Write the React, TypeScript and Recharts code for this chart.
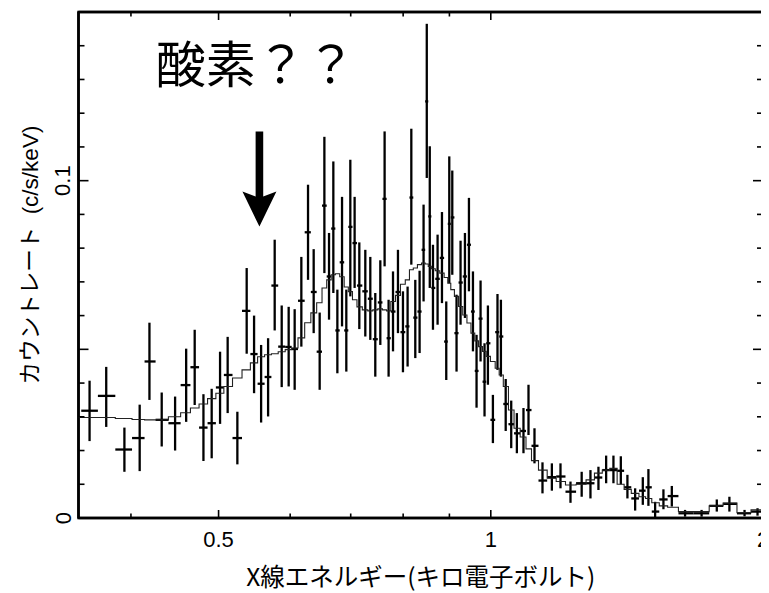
import React from 'react';
import { ComposedChart, Scatter, XAxis, YAxis, ErrorBar, ReferenceDot, ReferenceArea } from 'recharts';

const FONT = '"Liberation Sans", "Noto Sans CJK JP", sans-serif';
const CJK_FONT = '"Noto Sans CJK JP", "Liberation Sans", sans-serif';

// Bin centres (keV)
const energyKeV = [
  0.3600, 0.3756, 0.3934, 0.4090, 0.4193, 0.4326, 0.4476, 0.4604, 0.4705, 0.4811,
  0.4913, 0.5019, 0.5117, 0.5245, 0.5371, 0.5473, 0.5572, 0.5672, 0.5768, 0.5872,
  0.5977, 0.6069, 0.6173, 0.6279, 0.6370, 0.6468, 0.6546, 0.6624, 0.6697, 0.6766,
  0.6847, 0.6922, 0.6993, 0.7070, 0.7155, 0.7265, 0.7358, 0.7452, 0.7548, 0.7631,
  0.7709, 0.7796, 0.7895, 0.7996, 0.8091, 0.8168, 0.8251, 0.8342, 0.8427, 0.8496,
  0.8561, 0.8631, 0.8733, 0.8831, 0.8928, 0.8997, 0.9066, 0.9165, 0.9259, 0.9363,
  0.9459, 0.9556, 0.9644, 0.9743, 0.9842, 0.9927, 1.0054, 1.0172, 1.0261, 1.0387,
  1.0534, 1.0687, 1.0868, 1.1008, 1.1177, 1.1407, 1.1683, 1.1942, 1.2250, 1.2604,
  1.2889, 1.3154, 1.3414, 1.3666, 1.3925, 1.4161, 1.4442, 1.4727, 1.4939, 1.5196,
  1.5521, 1.5856, 1.6400, 1.7105, 1.7780, 1.8360, 1.9082, 1.9723,
];

// Observed count rate (c/s/keV)
const countRate = [
  0.0318, 0.0362, 0.0203, 0.0237, 0.0464, 0.0291, 0.0281, 0.0394, 0.0447, 0.0268,
  0.0281, 0.0387, 0.0424, 0.0237, 0.0614, 0.0486, 0.0398, 0.0418, 0.0689, 0.0508,
  0.0507, 0.0501, 0.0644, 0.0847, 0.0670, 0.0493, 0.0926, 0.0716, 0.0858, 0.0556,
  0.0758, 0.0556, 0.0863, 0.0815, 0.0689, 0.0672, 0.0650, 0.0530, 0.0639, 0.0946,
  0.0533, 0.0612, 0.0670, 0.0551, 0.0568, 0.0950, 0.0594, 0.0612, 0.0795, 0.1235,
  0.0894, 0.0682, 0.0709, 0.0771, 0.0523, 0.0872, 0.0891, 0.0548, 0.0698, 0.0716,
  0.0810, 0.0612, 0.0436, 0.0591, 0.0404, 0.0518, 0.0291, 0.0551, 0.0538, 0.0338,
  0.0278, 0.0251, 0.0258, 0.0320, 0.0214, 0.0111, 0.0121, 0.0123, 0.0078, 0.0103,
  0.0103, 0.0120, 0.0142, 0.0142, 0.0140, 0.0091, 0.0058, 0.0081, 0.0091, 0.0019,
  0.0055, 0.0065, 0.0014, 0.0014, 0.0036, 0.0042, 0.0014, 0.0019,
];

// Upper end of each error bar
const countRateHigh = [
  0.0407, 0.0448, 0.0268, 0.0336, 0.0579, 0.0372, 0.0360, 0.0502, 0.0558, 0.0367,
  0.0383, 0.0493, 0.0537, 0.0315, 0.0741, 0.0600, 0.0513, 0.0533, 0.0825, 0.0630,
  0.0626, 0.0619, 0.0774, 0.0988, 0.0797, 0.0609, 0.1130, 0.0845, 0.1057, 0.0677,
  0.0952, 0.0677, 0.1062, 0.0952, 0.0817, 0.0795, 0.0774, 0.0667, 0.0764, 0.1146,
  0.0647, 0.0731, 0.0795, 0.0672, 0.0686, 0.1154, 0.0706, 0.0733, 0.0929, 0.1465,
  0.1102, 0.0810, 0.0840, 0.0907, 0.0642, 0.1072, 0.1030, 0.0662, 0.0822, 0.0845,
  0.0949, 0.0731, 0.0543, 0.0704, 0.0518, 0.0630, 0.0365, 0.0664, 0.0647, 0.0412,
  0.0348, 0.0311, 0.0326, 0.0395, 0.0266, 0.0165, 0.0162, 0.0162, 0.0108, 0.0137,
  0.0142, 0.0152, 0.0185, 0.0185, 0.0183, 0.0128, 0.0088, 0.0121, 0.0145, 0.0048,
  0.0085, 0.0095, 0.0024, 0.0024, 0.0055, 0.0063, 0.0024, 0.0029,
];

// Lower end of each error bar
const countRateLow = [
  0.0228, 0.0270, 0.0137, 0.0139, 0.0350, 0.0212, 0.0200, 0.0285, 0.0335, 0.0169,
  0.0177, 0.0279, 0.0311, 0.0159, 0.0487, 0.0370, 0.0283, 0.0301, 0.0556, 0.0388,
  0.0390, 0.0380, 0.0508, 0.0706, 0.0548, 0.0380, 0.0726, 0.0588, 0.0667, 0.0429,
  0.0568, 0.0434, 0.0657, 0.0682, 0.0560, 0.0538, 0.0528, 0.0419, 0.0513, 0.0746,
  0.0419, 0.0494, 0.0548, 0.0432, 0.0449, 0.0751, 0.0474, 0.0489, 0.0642, 0.1008,
  0.0682, 0.0558, 0.0573, 0.0637, 0.0409, 0.0696, 0.0721, 0.0434, 0.0573, 0.0593,
  0.0672, 0.0494, 0.0327, 0.0464, 0.0301, 0.0395, 0.0222, 0.0439, 0.0419, 0.0258,
  0.0207, 0.0192, 0.0192, 0.0246, 0.0162, 0.0073, 0.0081, 0.0088, 0.0045, 0.0063,
  0.0058, 0.0083, 0.0103, 0.0103, 0.0100, 0.0058, 0.0022, 0.0039, 0.0036, 0.0000,
  0.0026, 0.0034, 0.0004, 0.0004, 0.0019, 0.0019, 0.0005, 0.0007,
];

// Model (folded) count rate per bin
const modelRate = [
  0.0298, 0.0298, 0.0295, 0.0292, 0.0291, 0.0291, 0.0300, 0.0312, 0.0326, 0.0338,
  0.0354, 0.0370, 0.0390, 0.0415, 0.0439, 0.0460, 0.0478, 0.0484, 0.0487, 0.0493,
  0.0499, 0.0504, 0.0534, 0.0579, 0.0608, 0.0638, 0.0682, 0.0706, 0.0721, 0.0724,
  0.0715, 0.0685, 0.0671, 0.0647, 0.0626, 0.0617, 0.0614, 0.0617, 0.0620, 0.0617,
  0.0614, 0.0642, 0.0660, 0.0693, 0.0706, 0.0736, 0.0741, 0.0751, 0.0756, 0.0753,
  0.0746, 0.0739, 0.0733, 0.0726, 0.0713, 0.0696, 0.0677, 0.0657, 0.0627, 0.0602,
  0.0578, 0.0548, 0.0525, 0.0508, 0.0494, 0.0479, 0.0464, 0.0444, 0.0424, 0.0390,
  0.0320, 0.0266, 0.0240, 0.0205, 0.0170, 0.0142, 0.0118, 0.0108, 0.0098, 0.0100,
  0.0113, 0.0133, 0.0142, 0.0147, 0.0100, 0.0085, 0.0073, 0.0063, 0.0058, 0.0045,
  0.0036, 0.0032, 0.0019, 0.0019, 0.0036, 0.0044, 0.0016, 0.0024,
];

const xTickValues = [0.4, 0.5, 0.6, 0.7, 0.8, 0.9, 1, 2];
const xMajorTicks = [0.5, 1, 2];
const yTickValues = [0, 0.01, 0.02, 0.03, 0.04, 0.05, 0.06, 0.07, 0.08, 0.09, 0.1, 0.11, 0.12, 0.13, 0.14];
const yMajorTicks = [0, 0.05, 0.1];
const yLabeledTicks = [0, 0.1];

const titleText = '酸素？？';
const xAxisTitle = 'X線エネルギー(キロ電子ボルト)';
const yAxisTitle = 'カウントレート  (c/s/keV)';
const titleAnchor = { x: 0.5495, y: 0.1291 };
const arrowTip = { x: 0.5548, y: 0.0864 };

const X_DOMAIN: [number, number] = [0.35, 2];
const Y_DOMAIN: [number, number] = [0, 0.15];

const n = energyKeV.length;
const clampX = (v: number) => Math.min(X_DOMAIN[1], Math.max(X_DOMAIN[0], v));
const binEdges = energyKeV.map((e, i) => {
  const lo = i > 0 ? Math.sqrt(energyKeV[i - 1] * e) : e * Math.sqrt(e / energyKeV[1]);
  const hi = i < n - 1 ? Math.sqrt(e * energyKeV[i + 1]) : e * Math.sqrt(e / energyKeV[n - 2]);
  return [clampX(lo), clampX(hi)];
});

const points = energyKeV.map((e, i) => ({
  x: e,
  y: countRate[i],
  xErr: [e - binEdges[i][0], binEdges[i][1] - e],
  yErr: [countRate[i] - countRateLow[i], countRateHigh[i] - countRate[i]],
}));

const modelSteps: { x: number; y: number }[] = [{ x: X_DOMAIN[0], y: modelRate[0] }];
energyKeV.forEach((_, i) => {
  modelSteps.push({ x: binEdges[i][0], y: modelRate[i] });
  modelSteps.push({ x: binEdges[i][1], y: modelRate[i] });
});
modelSteps.push({ x: X_DOMAIN[1], y: modelRate[n - 1] });

const near = (a: number, b: number) => Math.abs(a - b) < 1e-9;
const isIn = (arr: number[], v: number) => arr.some((t) => near(t, v));

const BottomTick = (props: any) => {
  const { x, y, payload } = props;
  const v = payload.value;
  const major = isIn(xMajorTicks, v);
  const len = major ? 8 : 4.5;
  return (
    <g>
      <line x1={x} x2={x} y1={y} y2={y - len} stroke="#000" strokeWidth={1.6} />
      {major && (
        <text x={x} y={y + 29} textAnchor="middle" fontSize={22} fontFamily={FONT} fill="#000">
          {String(v)}
        </text>
      )}
    </g>
  );
};

const TopTick = (props: any) => {
  const { x, y, payload } = props;
  const major = isIn(xMajorTicks, payload.value);
  const len = major ? 8 : 4.5;
  return <line x1={x} x2={x} y1={y} y2={y + len} stroke="#000" strokeWidth={1.6} />;
};

const LeftTick = (props: any) => {
  const { x, y, payload } = props;
  const v = payload.value;
  const major = isIn(yMajorTicks, v);
  const len = major ? 10 : 6;
  const lx = x - 8;
  return (
    <g>
      <line x1={x} x2={x + len} y1={y} y2={y} stroke="#000" strokeWidth={1.6} />
      {isIn(yLabeledTicks, v) && (
        <text
          x={lx}
          y={y}
          transform={`rotate(-90 ${lx} ${y})`}
          textAnchor="middle"
          fontSize={22}
          fontFamily={FONT}
          fill="#000"
        >
          {String(v)}
        </text>
      )}
    </g>
  );
};

const RightTick = (props: any) => {
  const { x, y, payload } = props;
  const major = isIn(yMajorTicks, payload.value);
  const len = major ? 10 : 6;
  return <line x1={x} x2={x - len} y1={y} y2={y} stroke="#000" strokeWidth={1.6} />;
};

const XTitle = (p: any) => {
  const vb = (p && p.viewBox) || { x: 70.5, y: 510, width: 684.5, height: 40 };
  return (
    <text
      x={vb.x + vb.width / 2}
      y={vb.y + 68}
      textAnchor="middle"
      fontSize={24.5}
      fontFamily={CJK_FONT}
      fill="#000"
    >
      {xAxisTitle}
    </text>
  );
};

const YTitle = (p: any) => {
  const vb = (p && p.viewBox) || { x: 10, y: 4, width: 60.5, height: 506 };
  const cx = vb.x + 20;
  const cy = vb.y + vb.height / 2 - 10;
  return (
    <text
      x={cx}
      y={cy}
      transform={`rotate(-90 ${cx} ${cy})`}
      textAnchor="middle"
      fontSize={22.5}
      fontFamily={FONT}
      fill="#000"
      style={{ whiteSpace: 'pre' }}
    >
      {yAxisTitle}
    </text>
  );
};

const TitleShape = (props: any) => {
  const { cx, cy } = props;
  return (
    <text x={cx} y={cy} textAnchor="middle" fontSize={50} fontFamily={CJK_FONT} fill="#000">
      {titleText}
    </text>
  );
};

const ArrowShape = (props: any) => {
  const { cx, cy } = props;
  const d = [
    `M ${cx - 3.8} ${cy - 95}`,
    `L ${cx + 3.8} ${cy - 95}`,
    `L ${cx + 3.8} ${cy - 30}`,
    `L ${cx + 17} ${cy - 35}`,
    `L ${cx} ${cy}`,
    `L ${cx - 17} ${cy - 35}`,
    `L ${cx - 3.8} ${cy - 30}`,
    'Z',
  ].join(' ');
  return <path d={d} fill="#000" stroke="none" />;
};

const Empty = () => <g />;

export default function App() {
  return (
    <div style={{ width: 761, height: 585 }}>
      <ComposedChart width={761} height={585} margin={{ top: 3, right: 5, bottom: 35, left: 10 }}>
        <XAxis
          xAxisId="b"
          dataKey="x"
          type="number"
          scale="log"
          domain={X_DOMAIN}
          allowDataOverflow
          ticks={xTickValues}
          interval={0}
          height={40}
          tickSize={0}
          tickMargin={0}
          tick={<BottomTick />}
          axisLine={{ stroke: '#000', strokeWidth: 2.5 }}
          label={XTitle}
        />
        <XAxis
          xAxisId="t"
          orientation="top"
          dataKey="x"
          type="number"
          scale="log"
          domain={X_DOMAIN}
          allowDataOverflow
          ticks={xTickValues}
          interval={0}
          height={1}
          tickSize={0}
          tickMargin={0}
          tick={<TopTick />}
          axisLine={{ stroke: '#000', strokeWidth: 2.5 }}
        />
        <YAxis
          yAxisId="l"
          dataKey="y"
          type="number"
          domain={Y_DOMAIN}
          allowDataOverflow
          ticks={yTickValues}
          interval={0}
          width={60.5}
          tickSize={0}
          tickMargin={0}
          tick={<LeftTick />}
          axisLine={{ stroke: '#000', strokeWidth: 2.5 }}
          label={YTitle}
        />
        <YAxis
          yAxisId="r"
          orientation="right"
          dataKey="y"
          type="number"
          domain={Y_DOMAIN}
          allowDataOverflow
          ticks={yTickValues}
          interval={0}
          width={1}
          tickSize={0}
          tickMargin={0}
          tick={<RightTick />}
          axisLine={{ stroke: '#000', strokeWidth: 2.5 }}
        />
        {/* plot frame */}
        <ReferenceArea
          xAxisId="b"
          yAxisId="l"
          x1={X_DOMAIN[0]}
          x2={X_DOMAIN[1]}
          y1={Y_DOMAIN[0]}
          y2={Y_DOMAIN[1]}
          fill="none"
          stroke="#000"
          strokeWidth={2.5}
          ifOverflow="visible"
        />
        {/* invisible series so that the mirrored frame axes (top / right) are drawn */}
        <Scatter data={modelSteps} xAxisId="t" yAxisId="r" shape={Empty} isAnimationActive={false} />
        <Scatter
          data={modelSteps}
          xAxisId="b"
          yAxisId="l"
          line={{ stroke: '#222', strokeWidth: 1.1 }}
          shape={Empty}
          isAnimationActive={false}
        />
        <Scatter data={points} xAxisId="b" yAxisId="l" shape={Empty} isAnimationActive={false}>
          <ErrorBar dataKey="yErr" direction="y" width={0} stroke="#000" strokeWidth={2.3} isAnimationActive={false} />
          <ErrorBar dataKey="xErr" direction="x" width={0} stroke="#000" strokeWidth={2.3} isAnimationActive={false} />
        </Scatter>
        <ReferenceDot xAxisId="b" yAxisId="l" x={titleAnchor.x} y={titleAnchor.y} shape={TitleShape} />
        <ReferenceDot xAxisId="b" yAxisId="l" x={arrowTip.x} y={arrowTip.y} shape={ArrowShape} />
      </ComposedChart>
    </div>
  );
}
